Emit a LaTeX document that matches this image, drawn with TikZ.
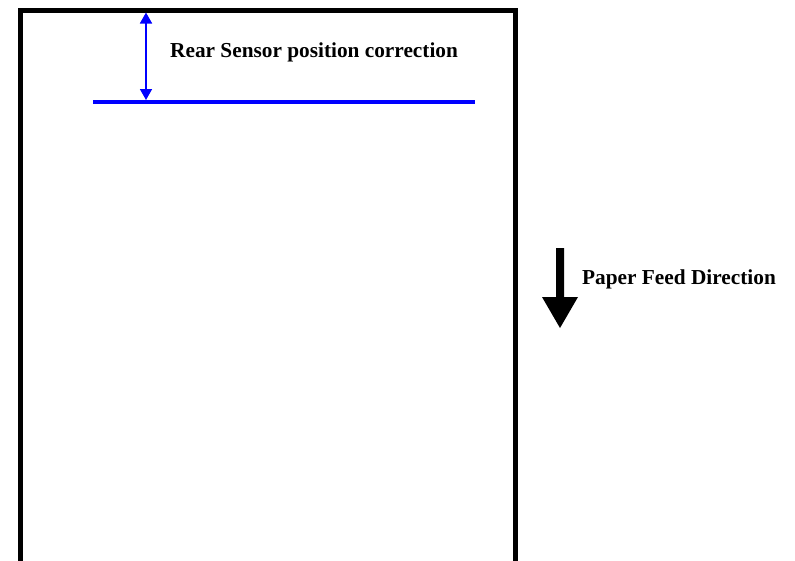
\documentclass[tikz,border=0pt]{standalone}
\usepackage{fontspec}
\setmainfont{Liberation Serif}
\usetikzlibrary{arrows.meta}
\tikzset{
  paper/.style  = {draw=black, line width=5pt},
  sensor/.style = {draw=blue, line width=4pt},
  offset/.style = {draw=blue, line width=1.6pt,
                   {Triangle[length=11pt,width=12pt]}-{Triangle[length=11pt,width=12pt]}},
  feed/.style   = {fill=black},
  label/.style  = {font=\fontsize{21.3}{24}\selectfont\bfseries, inner sep=0pt, anchor=base west},
}
\begin{document}
\begin{tikzpicture}[x=1pt, y=-1pt]
\useasboundingbox (0,0) rectangle (795,560);

% sheet outline, open at the bottom
\draw[paper] (20,562) -- (20,10) -- (515,10) -- (515,562);

% sensor line and correction distance
\coordinate (sensorL) at (93,102);
\coordinate (sensorR) at (475,102);
\draw[sensor] (sensorL) -- (sensorR);
\coordinate (edge) at (146,12.5);
\coordinate (mark) at (146,100);
\draw[offset] (edge) -- (mark);
\node[label] (corr) at (170,57) {Rear Sensor position correction};

% feed direction arrow
\fill[feed] (556,248) -- (564,248) -- (564,297) -- (578,297)
  -- (560,328) -- (542,297) -- (556,297) -- cycle;
\node[label] (dir) at (582,284) {Paper Feed Direction};

\end{tikzpicture}
\end{document}
